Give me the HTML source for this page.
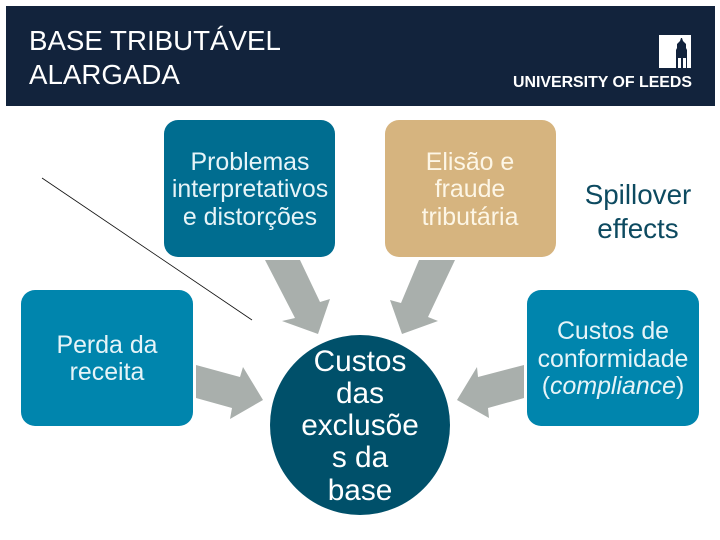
<!DOCTYPE html>
<html lang="pt">
<head>
<meta charset="utf-8">
<title>Base tributável alargada</title>
<style>
html,body{margin:0;padding:0;background:#fff}
svg{display:block}
text{font-family:"Liberation Sans",sans-serif;text-anchor:middle}
.b{font-size:24.9px;fill:#e6f4f8}
.d{font-size:24.9px;fill:#fdf6e6}
.t{font-size:27.7px;fill:#fff;text-anchor:start}
.c{font-size:29.8px;fill:#fff}
.s{font-size:27.8px;fill:#0d4a60}
</style>
</head>
<body>
<svg width="720" height="540" viewBox="0 0 720 540" xmlns="http://www.w3.org/2000/svg">
<rect width="720" height="540" fill="#fff"/>
<rect x="6" y="6" width="709" height="100" fill="#12233c"/>
<text class="t" x="29" y="50">BASE TRIBUTÁVEL</text>
<text class="t" x="29" y="84">ALARGADA</text>

<rect x="659" y="35" width="32" height="33" fill="#fff"/>
<path d="M676 68V50l1-2v-4l3-3 1-3 1 0 1 3 3 3v4l1 2v18h-1V58h-3v10h-2V58h-3v10z" fill="#12233c"/>
<text x="692" y="87" style="font-size:15.5px;font-weight:bold;text-anchor:end" fill="#fff" textLength="179" lengthAdjust="spacingAndGlyphs">UNIVERSITY OF LEEDS</text>

<rect x="164" y="120" width="171" height="137" rx="14" fill="#006d90"/>
<text class="b" x="250" y="170">Problemas</text>
<text class="b" x="250" y="197">interpretativos</text>
<text class="b" x="250" y="225">e distorções</text>

<rect x="385" y="120" width="171" height="137" rx="14" fill="#d6b47f"/>
<text class="d" x="470" y="170">Elisão e</text>
<text class="d" x="470" y="197">fraude</text>
<text class="d" x="470" y="225">tributária</text>

<text class="s" x="638" y="204">Spillover</text>
<text class="s" x="638" y="238">effects</text>

<rect x="21" y="290" width="172" height="136" rx="14" fill="#0085ad"/>
<text class="b" x="107" y="353">Perda da</text>
<text class="b" x="107" y="380">receita</text>

<rect x="527" y="290" width="172" height="136" rx="14" fill="#0085ad"/>
<text class="b" x="613" y="339">Custos de</text>
<text class="b" x="613" y="367">conformidade</text>
<text class="b" x="613" y="394">(<tspan font-style="italic">compliance</tspan>)</text>

<circle cx="360" cy="425" r="90" fill="#00506a"/>
<text class="c" x="360" y="371">Custos</text>
<text class="c" x="360" y="403">das</text>
<text class="c" x="360" y="435">exclusõe</text>
<text class="c" x="360" y="467">s da</text>
<text class="c" x="360" y="500">base</text>

<g fill="#a9afac">
<polygon points="265,260 300,260 320,302 330,299 318,334 282,321 295,318"/>
<polygon points="419,260 455,260 428,317 438,321 402,334 390,300 401,303"/>
<polygon points="196,365 240,377 243,367 263,400 230,419 232,408 196,398"/>
<polygon points="524,365 478,377 477,367 457,400 489,418 488,408 524,398"/>
</g>
<line x1="42" y1="178" x2="252" y2="320" stroke="#111" stroke-width="0.8"/>
</svg>
</body>
</html>
